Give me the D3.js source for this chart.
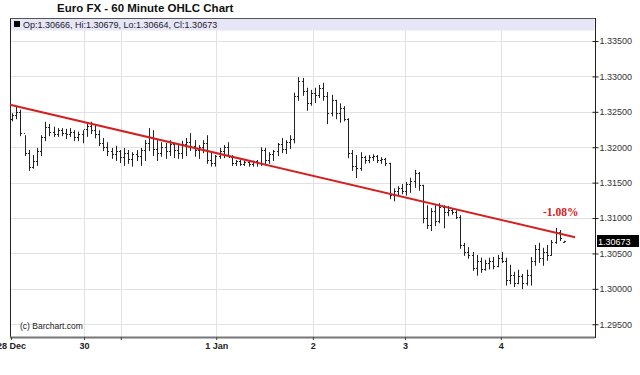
<!DOCTYPE html>
<html>
<head>
<meta charset="utf-8">
<script src="https://cdn.jsdelivr.net/npm/d3@7"></script>
<style>
  body { margin: 0; background: #fff; }
  svg { display: block; font-family: "Liberation Sans", Arial, sans-serif; }
</style>
</head>
<body>
<div class="container"></div>
<script>
// hourly bars
const opens = [1.3240,1.3246,1.3250,1.3220,1.3192,1.3172,1.3180,1.3195,1.3214,1.3228,
  1.3222,1.3219,1.3224,1.3220,1.3218,1.3222,1.3214,1.3218,1.3226,1.3230,
  1.3224,1.3218,1.3206,1.3200,1.3194,1.3190,1.3194,1.3186,1.3192,1.3184,
  1.3190,1.3188,1.3196,1.3206,1.3214,1.3198,1.3192,1.3200,1.3194,1.3204,
  1.3196,1.3192,1.3204,1.3208,1.3202,1.3196,1.3200,1.3206,1.3182,1.3178,
  1.3188,1.3194,1.3200,1.3186,1.3178,1.3180,1.3177,1.3179,1.3176,1.3180,
  1.3178,1.3196,1.3182,1.3190,1.3194,1.3204,1.3198,1.3208,1.3212,1.3272,
  1.3294,1.3280,1.3262,1.3276,1.3274,1.3284,1.3272,1.3248,1.3266,1.3248,
  1.3256,1.3240,1.3192,1.3174,1.3170,1.3186,1.3182,1.3186,1.3188,1.3182,
  1.3184,1.3178,1.3132,1.3138,1.3142,1.3138,1.3148,1.3152,1.3164,1.3146,
  1.3100,1.3090,1.3110,1.3096,1.3116,1.3108,1.3112,1.3108,1.3102,1.3062,
  1.3052,1.3048,1.3030,1.3040,1.3028,1.3036,1.3040,1.3032,1.3044,1.3040,
  1.3012,1.3020,1.3008,1.3018,1.3008,1.3020,1.3040,1.3056,1.3044,1.3052,
  1.3048,1.3066,1.3080,1.30666];
const highs = [1.3248,1.3258,1.3253,1.3217,1.3196,1.3189,1.3199,1.3217,1.3236,1.3233,
  1.3229,1.3227,1.3227,1.3226,1.3227,1.3224,1.3222,1.3224,1.3233,1.3236,
  1.3231,1.3224,1.3213,1.3207,1.3199,1.3202,1.3196,1.3199,1.3196,1.3193,
  1.3196,1.3199,1.3210,1.3227,1.3224,1.3210,1.3207,1.3206,1.3210,1.3206,
  1.3203,1.3209,1.3213,1.3220,1.3210,1.3203,1.3210,1.3217,1.3193,1.3189,
  1.3199,1.3203,1.3207,1.3189,1.3182,1.3182,1.3181,1.3181,1.3181,1.3182,
  1.3200,1.3199,1.3193,1.3196,1.3206,1.3213,1.3210,1.3217,1.3277,1.3299,
  1.3298,1.3284,1.3281,1.3284,1.3288,1.3291,1.3278,1.3274,1.3267,1.3262,
  1.3258,1.3241,1.3196,1.3189,1.3193,1.3188,1.3189,1.3190,1.3189,1.3186,
  1.3185,1.3178,1.3142,1.3145,1.3148,1.3151,1.3157,1.3168,1.3165,1.3147,
  1.3118,1.3114,1.3118,1.3121,1.3118,1.3117,1.3114,1.3111,1.3104,1.3065,
  1.3059,1.3052,1.3048,1.3044,1.3041,1.3044,1.3045,1.3048,1.3052,1.3044,
  1.3034,1.3024,1.3027,1.3021,1.3027,1.3045,1.3062,1.3065,1.3058,1.3062,
  1.3069,1.3086,1.3083,1.30679];
const lows = [1.3238,1.3241,1.3217,1.3189,1.3168,1.3171,1.3175,1.3189,1.3210,1.3217,
  1.3216,1.3216,1.3217,1.3213,1.3216,1.3210,1.3210,1.3207,1.3216,1.3220,
  1.3214,1.3203,1.3196,1.3189,1.3185,1.3182,1.3179,1.3175,1.3178,1.3174,
  1.3182,1.3175,1.3182,1.3196,1.3189,1.3182,1.3188,1.3185,1.3189,1.3186,
  1.3185,1.3185,1.3189,1.3196,1.3188,1.3185,1.3193,1.3178,1.3174,1.3174,
  1.3185,1.3186,1.3189,1.3175,1.3175,1.3175,1.3175,1.3174,1.3174,1.3174,
  1.3175,1.3176,1.3178,1.3182,1.3189,1.3193,1.3192,1.3199,1.3207,1.3267,
  1.3274,1.3253,1.3260,1.3264,1.3271,1.3267,1.3234,1.3245,1.3241,1.3236,
  1.3238,1.3186,1.3168,1.3158,1.3168,1.3178,1.3179,1.3182,1.3179,1.3178,
  1.3175,1.3128,1.3125,1.3133,1.3135,1.3133,1.3137,1.3144,1.3140,1.3094,
  1.3086,1.3083,1.3090,1.3094,1.3087,1.3104,1.3106,1.3100,1.3058,1.3048,
  1.3044,1.3027,1.3020,1.3024,1.3027,1.3029,1.3029,1.3032,1.3038,1.3006,
  1.3008,1.3004,1.3008,1.3001,1.3006,1.3006,1.3034,1.3038,1.3034,1.3041,
  1.3048,1.3065,1.3069,1.30664];
const closes = [1.3246,1.3250,1.3220,1.3192,1.3172,1.3180,1.3195,1.3214,1.3228,1.3222,
  1.3219,1.3224,1.3220,1.3218,1.3222,1.3214,1.3218,1.3226,1.3230,1.3224,
  1.3218,1.3206,1.3200,1.3194,1.3190,1.3194,1.3186,1.3192,1.3184,1.3190,
  1.3188,1.3196,1.3206,1.3214,1.3198,1.3192,1.3200,1.3194,1.3204,1.3196,
  1.3192,1.3204,1.3208,1.3202,1.3196,1.3200,1.3206,1.3182,1.3178,1.3188,
  1.3194,1.3200,1.3186,1.3178,1.3180,1.3177,1.3179,1.3176,1.3180,1.3178,
  1.3196,1.3182,1.3190,1.3194,1.3204,1.3198,1.3208,1.3212,1.3272,1.3294,
  1.3280,1.3262,1.3276,1.3274,1.3284,1.3272,1.3248,1.3266,1.3248,1.3256,
  1.3240,1.3192,1.3174,1.3170,1.3186,1.3182,1.3186,1.3188,1.3182,1.3184,
  1.3178,1.3132,1.3138,1.3142,1.3138,1.3148,1.3152,1.3164,1.3146,1.3100,
  1.3090,1.3110,1.3096,1.3116,1.3108,1.3112,1.3108,1.3102,1.3062,1.3052,
  1.3048,1.3030,1.3040,1.3028,1.3036,1.3040,1.3032,1.3044,1.3040,1.3012,
  1.3020,1.3008,1.3018,1.3008,1.3020,1.3040,1.3056,1.3044,1.3052,1.3048,
  1.3066,1.3080,1.3072,1.30673];

// day labels sit at bar positions
const dayLabels = ['28 Dec', '30', '', '1 Jan', '2', '3', '4'];
const dayIndex = [-0.25, 17.35, 26.2, 49.2, 72.5, 94.7, 117.8];

const priceTicks = [1.295, 1.300, 1.305, 1.310, 1.315, 1.320, 1.325, 1.330, 1.335];

// regression line ends (bar index, price)
const trendIndex = [-0.5, 135.7];
const trendPrice = [1.3260, 1.3073];
const trendLabel = '-1.08%';

const title = 'Euro FX - 60 Minute OHLC Chart';
const lastBar = 'Op:1.30666, Hi:1.30679, Lo:1.30664, Cl:1.30673';
const lastClose = '1.30673';

const width = 640, height = 375;
const plotLeft = 10, plotRight = 595, plotTop = 18, plotBottom = 337;

const x = d3.scaleLinear().domain([-0.5, 140.5]).range([plotLeft, plotRight]);
const y = d3.scaleLinear().domain([1.2932, 1.33825]).range([plotBottom, plotTop]);

const svg = d3.select('.container')
    .append('svg')
    .attr('width', width)
    .attr('height', height);

svg.append('text')
    .attr('x', 57)
    .attr('y', 12)
    .attr('font-size', 11.5)
    .attr('font-weight', 'bold')
    .attr('fill', '#111')
    .text(title);

// grid
svg.append('g')
    .selectAll('line')
    .data(priceTicks)
    .enter()
    .append('line')
    .attr('x1', plotLeft).attr('x2', plotRight)
    .attr('y1', d => Math.round(y(d)) + 0.5)
    .attr('y2', d => Math.round(y(d)) + 0.5)
    .attr('stroke', '#e2e2e2');

svg.append('g')
    .selectAll('line')
    .data(dayIndex.slice(1))
    .enter()
    .append('line')
    .attr('x1', d => Math.round(x(d)) + 0.5)
    .attr('x2', d => Math.round(x(d)) + 0.5)
    .attr('y1', plotTop + 12).attr('y2', plotBottom)
    .attr('stroke', '#e2e2e2');

// header strip
svg.append('rect')
    .attr('x', plotLeft + 0.5).attr('y', plotTop + 0.5)
    .attr('width', plotRight - plotLeft - 1).attr('height', 12)
    .attr('fill', '#e6e6f8')
    .attr('stroke', 'none');

svg.append('rect')
    .attr('x', 14).attr('y', 21)
    .attr('width', 6).attr('height', 6)
    .attr('fill', '#000');

svg.append('text')
    .attr('x', 23).attr('y', 28)
    .attr('font-size', 9)
    .attr('fill', '#222')
    .text(lastBar);

// frame
svg.append('line')
    .attr('x1', plotLeft + 0.5).attr('x2', plotLeft + 0.5)
    .attr('y1', plotTop).attr('y2', plotBottom)
    .attr('stroke', '#222');
svg.append('line')
    .attr('x1', plotLeft).attr('x2', plotRight)
    .attr('y1', plotTop + 0.5).attr('y2', plotTop + 0.5)
    .attr('stroke', '#555');
svg.append('line')
    .attr('x1', plotLeft).attr('x2', plotRight)
    .attr('y1', plotBottom + 0.5).attr('y2', plotBottom + 0.5)
    .attr('stroke', '#777')
    .attr('stroke-width', 2);

// right price axis
const yAxis = svg.append('g')
    .attr('transform', `translate(${plotRight + 0.5},0)`)
    .call(d3.axisRight(y).tickValues(priceTicks).tickFormat(d3.format('.5f')).tickSize(3).tickPadding(1));
yAxis.select('.domain').attr('stroke', '#222').attr('d', `M0,${plotTop}V${plotBottom + 1}`);
yAxis.selectAll('.tick line').attr('stroke', '#222').attr('x1', -3);
yAxis.selectAll('.tick text')
    .attr('font-family', '"Liberation Sans", Arial, sans-serif')
    .attr('font-size', 9)
    .attr('fill', '#333');

// bottom day axis
const xAxis = svg.append('g')
    .attr('transform', `translate(0,${plotBottom})`)
    .call(d3.axisBottom(x).tickValues(dayIndex).tickFormat((d, i) => dayLabels[i]).tickSize(3).tickPadding(3));
xAxis.select('.domain').remove();
xAxis.selectAll('.tick line').attr('stroke', '#444');
xAxis.selectAll('.tick text')
    .attr('font-family', '"Liberation Sans", Arial, sans-serif')
    .attr('font-size', 9)
    .attr('font-weight', 'bold')
    .attr('fill', '#222');

svg.append('text')
    .attr('x', 20).attr('y', 329)
    .attr('font-size', 8.5)
    .attr('fill', '#222')
    .text('(c) Barchart.com');

// OHLC bars
const bars = svg.append('g')
    .selectAll('g')
    .data(closes.map((c, i) => ({i, o: opens[i], h: highs[i], l: lows[i], c})))
    .enter()
    .append('g')
    .attr('stroke', '#222')
    .attr('stroke-width', 1);

bars.append('line')
    .attr('x1', d => Math.round(x(d.i)) + 0.5)
    .attr('x2', d => Math.round(x(d.i)) + 0.5)
    .attr('y1', d => y(d.h))
    .attr('y2', d => y(d.l) + 1);
bars.append('line')
    .attr('x1', d => Math.round(x(d.i)) - 1)
    .attr('x2', d => Math.round(x(d.i)))
    .attr('y1', d => Math.round(y(d.o)) + 0.5)
    .attr('y2', d => Math.round(y(d.o)) + 0.5);
bars.append('line')
    .attr('x1', d => Math.round(x(d.i)) + 1)
    .attr('x2', d => Math.round(x(d.i)) + 2)
    .attr('y1', d => Math.round(y(d.c)) + 0.5)
    .attr('y2', d => Math.round(y(d.c)) + 0.5);

// trend line
svg.append('line')
    .attr('x1', x(trendIndex[0])).attr('y1', y(trendPrice[0]))
    .attr('x2', x(trendIndex[1])).attr('y2', y(trendPrice[1]))
    .attr('stroke', '#d42020')
    .attr('stroke-width', 2);

svg.append('text')
    .attr('x', 543).attr('y', 216)
    .attr('font-family', '"Liberation Serif", "Times New Roman", serif')
    .attr('font-size', 11.5)
    .attr('font-weight', 'bold')
    .attr('fill', '#d42020')
    .text(trendLabel);

// last price box
const lastY = y(closes[closes.length - 1]);
svg.append('rect')
    .attr('x', 597).attr('y', Math.round(lastY) - 6)
    .attr('width', 42).attr('height', 12)
    .attr('fill', '#000');
svg.append('text')
    .attr('x', 598).attr('y', Math.round(lastY) + 3.5)
    .attr('font-size', 9)
    .attr('fill', '#fff')
    .text(lastClose);
</script>
</body>
</html>
